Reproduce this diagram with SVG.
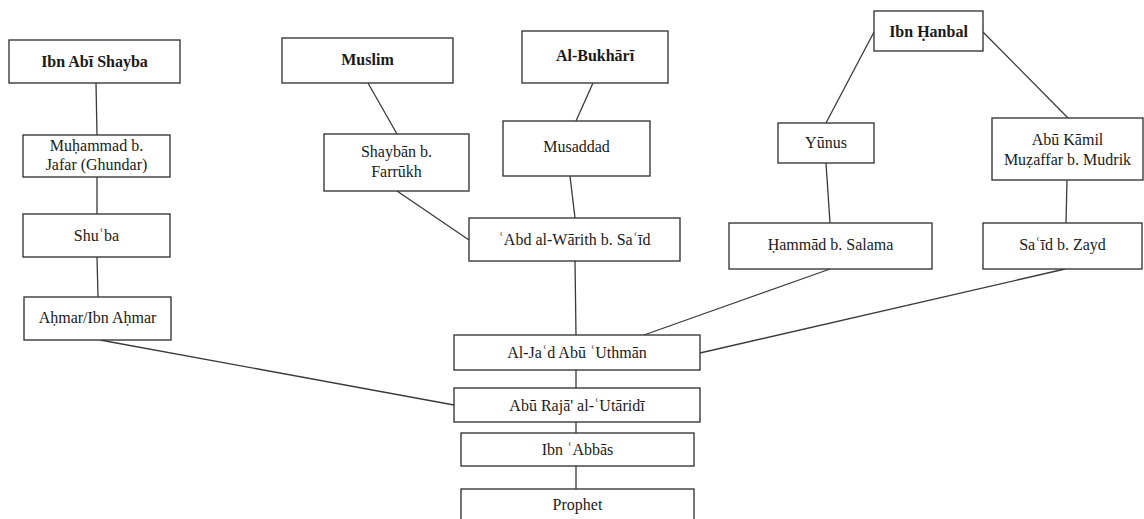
<svg xmlns="http://www.w3.org/2000/svg" width="1144" height="519" viewBox="0 0 1144 519">
  <style>
    .box rect { fill: #ffffff; stroke: #3a3a3a; stroke-width: 1.4; }
    .box text { font-size: 16px; fill: #1a1a1a; text-anchor: middle; }
    .box.head text { font-weight: bold; }
    #connectors line { stroke: #3a3a3a; stroke-width: 1.3; }
  </style>
  <rect width="1144" height="519" fill="#ffffff"/>

  <g id="connectors">
    <line x1="96" y1="83" x2="97" y2="135"/>
    <line x1="97" y1="177" x2="97" y2="214"/>
    <line x1="97" y1="257" x2="98" y2="297"/>
    <line x1="100" y1="340" x2="454" y2="405"/>
    <line x1="368" y1="83" x2="397" y2="134"/>
    <line x1="593" y1="83" x2="576" y2="121"/>
    <line x1="397" y1="191" x2="469" y2="240"/>
    <line x1="570" y1="176" x2="575" y2="218"/>
    <line x1="575" y1="261" x2="576" y2="335"/>
    <line x1="874" y1="32" x2="826" y2="123"/>
    <line x1="983" y1="32" x2="1068" y2="118"/>
    <line x1="826" y1="163" x2="830" y2="223"/>
    <line x1="1067" y1="180" x2="1066" y2="223"/>
    <line x1="830" y1="269" x2="644" y2="335"/>
    <line x1="1065" y1="269" x2="700" y2="353"/>
    <line x1="576" y1="370" x2="576" y2="388"/>
    <line x1="576" y1="422" x2="576" y2="433"/>
    <line x1="576" y1="466" x2="576" y2="489"/>
  </g>

  <g id="nodes">
    <g id="ibn-abi-shayba" class="box head">
      <rect x="9" y="40" width="171" height="43"/>
      <text x="94.5" y="67" font-family="Liberation Serif">Ibn Abī Shayba</text>
    </g>
    <g id="muhammad-b-jafar" class="box">
      <rect x="23" y="135" width="147" height="42"/>
      <text x="96.5" y="151" font-family="Liberation Serif">Muḥammad b.</text>
      <text x="96.5" y="170" font-family="Liberation Serif">Jafar (Ghundar)</text>
    </g>
    <g id="shuba" class="box">
      <rect x="23" y="214" width="147" height="43"/>
      <text x="96.5" y="241" font-family="Liberation Serif">Shuʿba</text>
    </g>
    <g id="ahmar" class="box">
      <rect x="24" y="297" width="147" height="43"/>
      <text x="97.5" y="323" font-family="Liberation Serif">Aḥmar/Ibn Aḥmar</text>
    </g>

    <g id="muslim" class="box head">
      <rect x="282" y="38" width="171" height="45"/>
      <text x="367.5" y="65" font-family="Liberation Serif">Muslim</text>
    </g>
    <g id="shayban" class="box">
      <rect x="324" y="134" width="145" height="57"/>
      <text x="396.5" y="157" font-family="Liberation Serif">Shaybān b.</text>
      <text x="396.5" y="177" font-family="Liberation Serif">Farrūkh</text>
    </g>

    <g id="al-bukhari" class="box head">
      <rect x="522" y="31" width="146" height="52"/>
      <text x="595" y="61" font-family="Liberation Serif">Al-Bukhārī</text>
    </g>
    <g id="musaddad" class="box">
      <rect x="503" y="121" width="147" height="55"/>
      <text x="576.5" y="152" font-family="Liberation Serif">Musaddad</text>
    </g>
    <g id="abd-al-warith" class="box">
      <rect x="469" y="218" width="211" height="43"/>
      <text x="574.5" y="245" font-family="Liberation Serif">ʿAbd al-Wārith b. Saʿīd</text>
    </g>

    <g id="ibn-hanbal" class="box head">
      <rect x="874" y="11" width="109" height="40"/>
      <text x="928.5" y="37" font-family="Liberation Serif">Ibn Ḥanbal</text>
    </g>
    <g id="yunus" class="box">
      <rect x="778" y="123" width="96" height="40"/>
      <text x="826" y="148" font-family="Liberation Serif">Yūnus</text>
    </g>
    <g id="abu-kamil" class="box">
      <rect x="992" y="118" width="151" height="62"/>
      <text x="1067.5" y="145" font-family="Liberation Serif">Abū Kāmil</text>
      <text x="1067.5" y="165" font-family="Liberation Serif">Muẓaffar b. Mudrik</text>
    </g>
    <g id="hammad" class="box">
      <rect x="729" y="223" width="203" height="46"/>
      <text x="830.5" y="250" font-family="Liberation Serif">Ḥammād b. Salama</text>
    </g>
    <g id="said-b-zayd" class="box">
      <rect x="983" y="223" width="159" height="46"/>
      <text x="1062.5" y="250" font-family="Liberation Serif">Saʿīd b. Zayd</text>
    </g>

    <g id="al-jad" class="box">
      <rect x="454" y="335" width="246" height="35"/>
      <text x="577" y="358" font-family="Liberation Serif">Al-Jaʿd Abū ʿUthmān</text>
    </g>
    <g id="abu-raja" class="box">
      <rect x="454" y="388" width="246" height="34"/>
      <text x="577" y="411" font-family="Liberation Serif">Abū Rajā' al-ʿUtāridī</text>
    </g>
    <g id="ibn-abbas" class="box">
      <rect x="461" y="433" width="233" height="33"/>
      <text x="577.5" y="455" font-family="Liberation Serif">Ibn ʿAbbās</text>
    </g>
    <g id="prophet" class="box">
      <rect x="461" y="489" width="233" height="40"/>
      <text x="577.5" y="510" font-family="Liberation Serif">Prophet</text>
    </g>
  </g>
</svg>
